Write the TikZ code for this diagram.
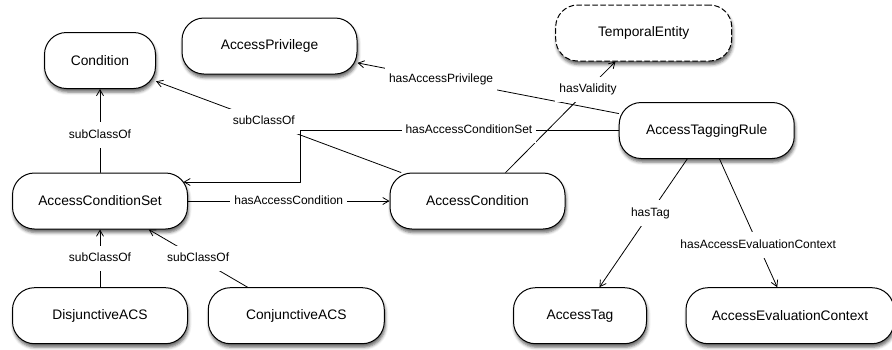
\documentclass[tikz,border=0pt]{standalone}
\usepackage{fontspec}
\setmainfont{Liberation Sans}
\usetikzlibrary{arrows.meta,shadows.blur}

\begin{document}
\begin{tikzpicture}[x=1pt, y=-1pt, line width=0.8pt, line join=round, line cap=round, >={Straight Barb[length=6pt,width=7pt]},
	cls/.style={draw, line width=1pt, fill=white, rounded corners=22pt, minimum height=56pt, font=\fontsize{13.8}{16}\selectfont,
		blur shadow={shadow xshift=1pt, shadow yshift=-3.5pt, shadow blur radius=3pt, shadow opacity=60}},
	lbl/.style={fill=white, inner xsep=4pt, inner ysep=7pt, text height=9pt, text depth=2.5pt, font=\fontsize{12}{14}\selectfont}]
	\useasboundingbox (0,0) rectangle (892,349);
	\path
	(100,60.5) node[cls, minimum width=111pt] (C) {Condition}
	(269.5,46) node[cls, minimum width=175pt] (AP) {AccessPrivilege}
	(643.7,33) node[cls, dash pattern=on 5pt off 3pt, minimum width=176pt] (TE) {TemporalEntity}
	(706.7,130.5) node[cls, minimum width=175pt] (ATR) {AccessTaggingRule}
	(100,201) node[cls, minimum width=175pt] (ACS) {AccessConditionSet}
	(477.5,201) node[cls, minimum width=175pt] (AC) {AccessCondition}
	(100,315.7) node[cls, minimum width=175pt] (DACS) {DisjunctiveACS}
	(296.3,315.7) node[cls, minimum width=176pt] (CACS) {ConjunctiveACS}
	(580,315.7) node[cls, minimum width=133pt] (AT) {AccessTag}
	(790,315.7) node[cls, minimum width=208pt] (AEC) {AccessEvaluationContext}
	(300,130.5) coordinate (bend)
	;
	\foreach \a/\b/\t/\p in {ACS/C/subClassOf/0.45, DACS/ACS/subClassOf/0.5, CACS/ACS/subClassOf/0.5,
		ACS/AC/hasAccessCondition/0.5, AC/C/subClassOf/0.56, ATR/AP/hasAccessPrivilege/0.68,
		AC/TE/hasValidity/0.75, ATR/AT/hasTag/0.42, ATR/AEC/hasAccessEvaluationContext/0.67}
	\draw[->] (\a) -- node[lbl, pos=\p] {\t} (\b)
	;
	\draw[->]
	(ATR) -- node[lbl, pos=0.47] {hasAccessConditionSet} (bend)
	|- ([xshift=-4.5pt, yshift=19pt]ACS.east)
	;
\end{tikzpicture}
\end{document}
